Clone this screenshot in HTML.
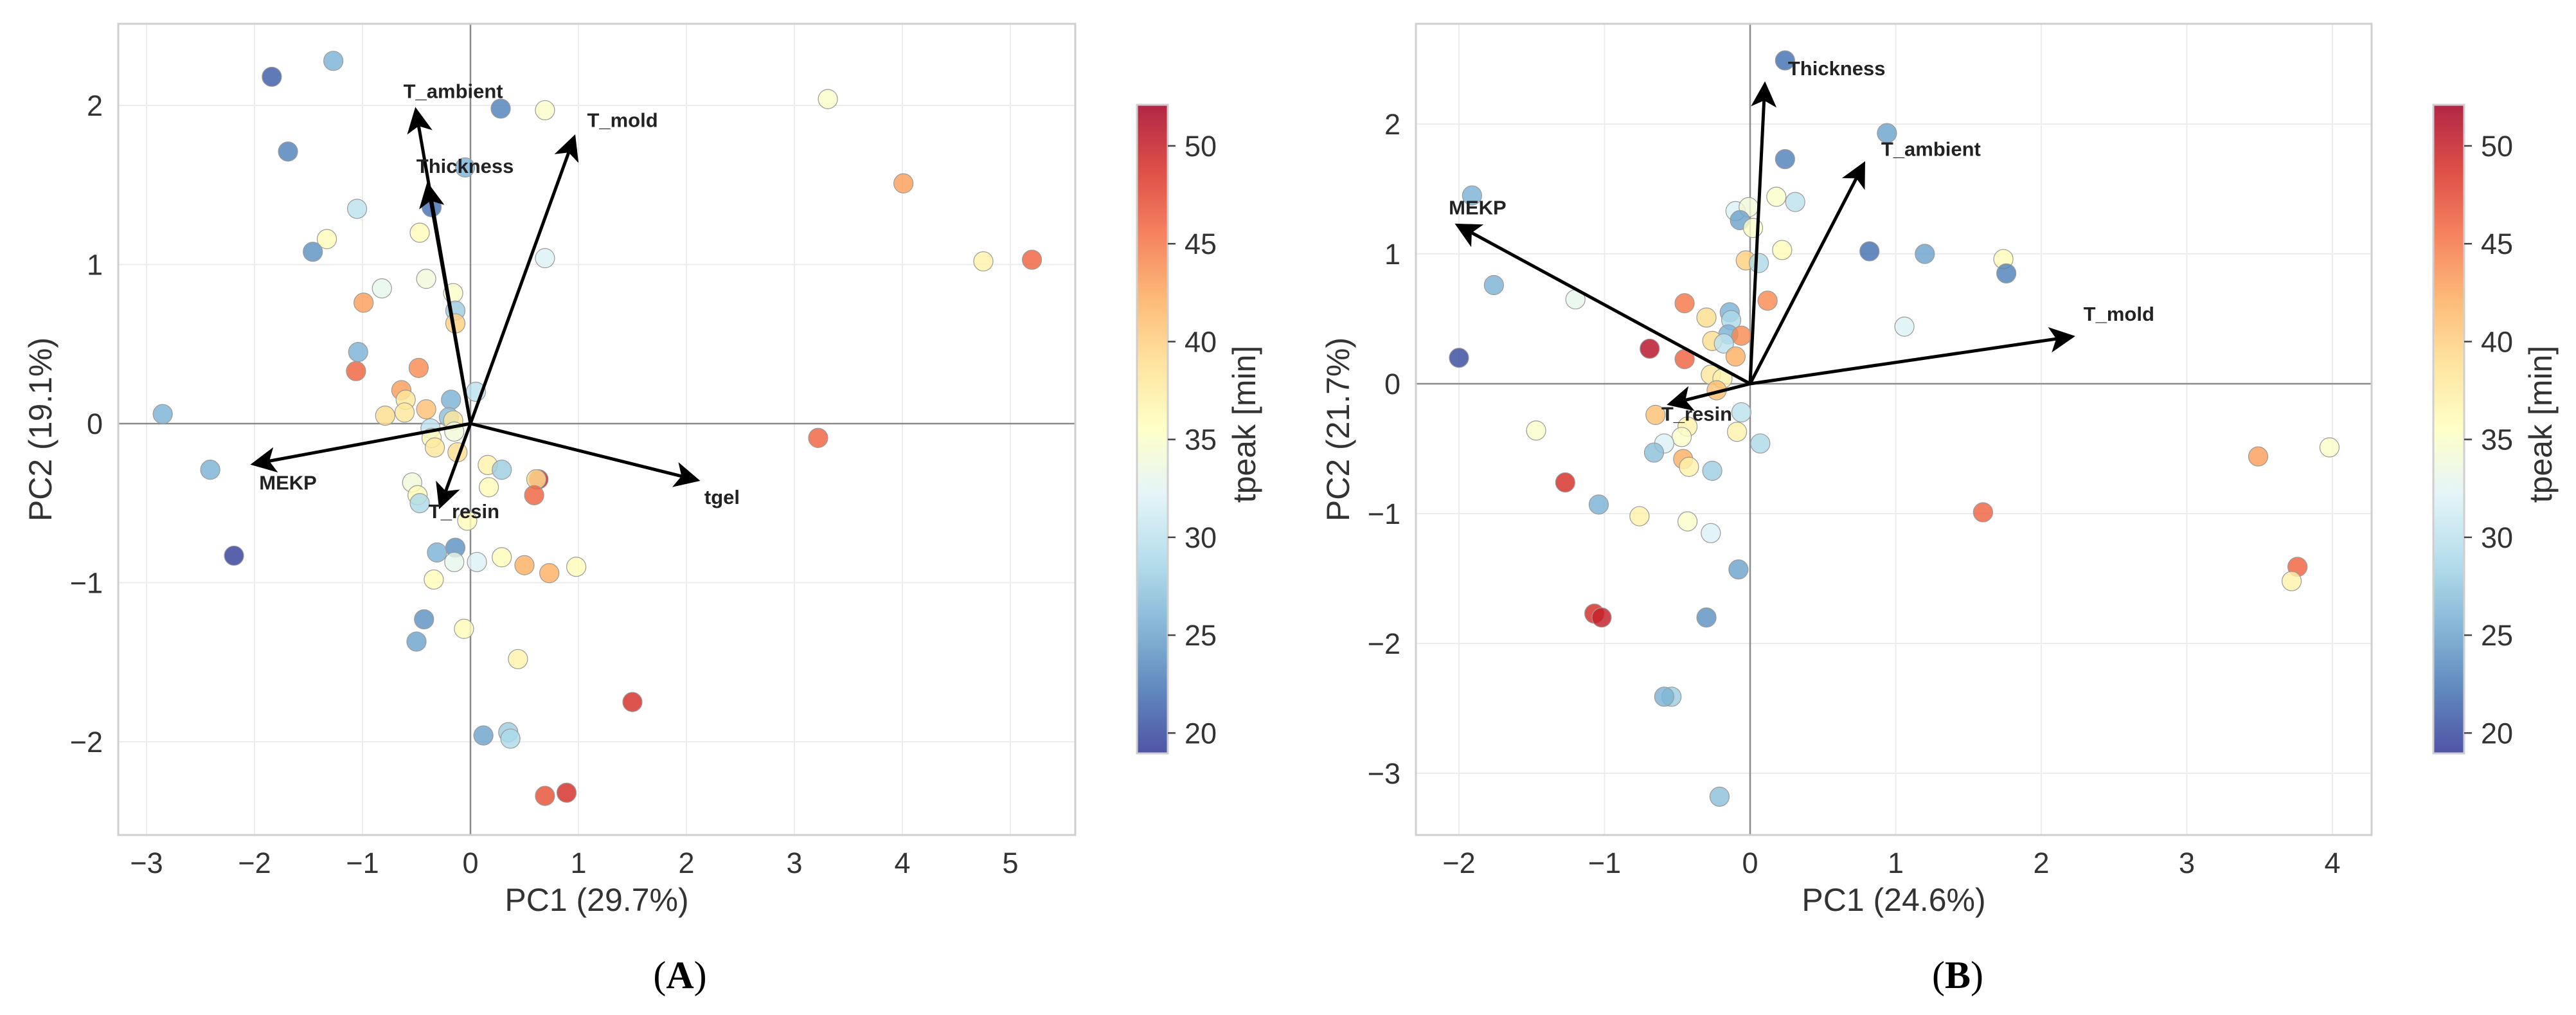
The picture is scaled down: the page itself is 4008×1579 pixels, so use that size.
<!DOCTYPE html>
<html><head><meta charset="utf-8"><title>PCA biplots</title>
<style>
html,body{margin:0;padding:0;background:#fff;}
svg{display:block;font-family:"Liberation Sans",sans-serif;}
</style></head>
<body>
<svg id="fig" width="4008" height="1579" viewBox="0 0 4008 1579" xmlns="http://www.w3.org/2000/svg">
<defs>
<marker id="ah" markerWidth="8" markerHeight="8" refX="6" refY="4" orient="auto" markerUnits="strokeWidth"><path d="M0,0 L8,4 L0,8 L2,4 Z" fill="#000"/></marker>
<linearGradient id="cbgrad" x1="0" y1="1" x2="0" y2="0">
<stop offset="0" stop-color="#313695"/><stop offset="0.1" stop-color="#4575b4"/><stop offset="0.2" stop-color="#74add1"/><stop offset="0.3" stop-color="#abd9e9"/><stop offset="0.4" stop-color="#e0f3f8"/><stop offset="0.5" stop-color="#ffffbf"/><stop offset="0.6" stop-color="#fee090"/><stop offset="0.7" stop-color="#fdae61"/><stop offset="0.8" stop-color="#f46d43"/><stop offset="0.9" stop-color="#d73027"/><stop offset="1" stop-color="#a50026"/>
</linearGradient>
</defs>
</svg>
<script>
// ---------- Panel A data ----------
const aPC1 = [-1.84,-1.27,-1.69,0.28,0.69,3.31,4.01,4.75,5.20,-0.05,-0.36,-1.05,-1.33,-0.47,-1.46,0.69,-0.41,-0.82,-0.16,-0.99,-0.14,-0.14,-1.04,-1.06,-0.48,-0.64,-0.60,-0.18,0.05,-0.79,-0.61,-0.41,-0.20,-0.16,-0.37,-0.15,-0.36,-0.33,-0.12,0.16,0.29,0.63,0.61,0.59,0.17,-0.54,-0.49,-0.47,-0.03,-0.14,-0.31,-0.15,0.06,0.29,0.50,0.73,0.98,-0.34,-2.85,-2.41,-2.19,3.22,-0.43,-0.50,-0.06,0.44,1.50,0.12,0.35,0.37,0.69,0.89];
const aPC2 = [2.18,2.28,1.71,1.98,1.97,2.04,1.51,1.02,1.03,1.61,1.36,1.35,1.16,1.20,1.08,1.04,0.91,0.85,0.82,0.76,0.71,0.63,0.45,0.33,0.35,0.21,0.15,0.15,0.20,0.05,0.07,0.09,0.04,0.02,-0.03,-0.05,-0.09,-0.15,-0.18,-0.26,-0.29,-0.35,-0.35,-0.45,-0.40,-0.37,-0.45,-0.50,-0.61,-0.78,-0.81,-0.87,-0.87,-0.84,-0.89,-0.94,-0.90,-0.98,0.06,-0.29,-0.83,-0.09,-1.23,-1.37,-1.29,-1.48,-1.75,-1.96,-1.94,-1.98,-2.34,-2.32];
const aTpeak = [21,26,23,23,35,35,43,37,46,26,22,30,36,36,24,32,34,33,35,43,28,40,26,46,44,43,38,26,30,39,38,41,27,38,30,34,36,38,39,37,28,50,39,46,36,34,36,29,36,24,26,33,32,36,42,42,36,36,26,26,19.5,46,24,25,36,37,49,25,28,29,47,49];
const aLoadNames = ["T_ambient","Thickness","T_mold","MEKP","tgel","T_resin"];
const aLoadX = [-0.50,-0.39,0.95,-1.98,2.07,-0.27];
const aLoadY = [1.95,1.48,1.78,-0.25,-0.35,-0.50];
const aLabelX = [-0.16,-0.05,1.08,-1.69,2.33,-0.06];
const aLabelY = [2.09,1.62,1.91,-0.37,-0.46,-0.55];
const aXTicks = [-3,-2,-1,0,1,2,3,4,5];
const aYTicks = [-2,-1,0,1,2];

// ---------- Panel B data ----------
const bPC1 = [0.24,0.94,0.24,0.18,0.31,-0.10,-0.01,-0.07,0.02,0.22,0.82,1.20,1.74,1.76,-0.03,0.06,-1.91,-1.76,-1.20,1.06,0.12,-0.45,-0.30,-0.14,-0.13,-0.15,-0.06,-0.26,-0.18,-0.69,-0.45,-0.10,-2.00,-0.27,-0.19,-0.23,-0.06,-0.65,-0.43,-0.47,-0.59,-0.66,-0.46,-0.42,-0.26,-0.09,0.07,-1.47,-1.27,-1.04,-0.76,-0.43,-0.27,-0.08,1.60,3.49,3.98,3.76,3.72,-1.07,-1.02,-0.30,-0.54,-0.59,-0.21];
const bPC2 = [2.49,1.93,1.73,1.44,1.40,1.33,1.36,1.26,1.20,1.03,1.02,1.00,0.96,0.85,0.95,0.93,1.45,0.76,0.65,0.44,0.64,0.62,0.51,0.55,0.49,0.38,0.37,0.33,0.31,0.27,0.19,0.21,0.20,0.07,0.04,-0.05,-0.22,-0.24,-0.33,-0.41,-0.46,-0.53,-0.58,-0.64,-0.67,-0.37,-0.46,-0.36,-0.76,-0.93,-1.02,-1.06,-1.15,-1.43,-0.99,-0.56,-0.49,-1.41,-1.52,-1.77,-1.80,-1.80,-2.41,-2.41,-3.18];
const bTpeak = [22,25,23,35,30,32,34,25,35,36,22,25,36,23,40,29,26,26,33,32,44,45,39,26,29,26,44,39,30,51,46,42,20,38,37,41,30,41,37,35,32,27,42,37,28,37,29,35,49,26,37,35,32,25,46,43,35,46,37,49,50,24,28,26,27];
const bLoadNames = ["Thickness","T_ambient","MEKP","T_mold","T_resin"];
const bLoadX = [0.10,0.77,-1.99,2.19,-0.53];
const bLoadY = [2.28,1.67,1.21,0.36,-0.15];
const bLabelX = [0.26,0.90,-2.07,2.29,-0.61];
const bLabelY = [2.43,1.81,1.36,0.54,-0.23];
const bXTicks = [-2,-1,0,1,2,3,4];
const bYTicks = [-3,-2,-1,0,1,2];

const cbTicks = [20,25,30,35,40,45,50];
const cbMin = 18.96, cbMax = 52.1;

const NS = "http://www.w3.org/2000/svg";
const svg = document.getElementById('fig');
const stops = ["#313695","#4575b4","#74add1","#abd9e9","#e0f3f8","#ffffbf","#fee090","#fdae61","#f46d43","#d73027","#a50026"];
function hex(h){return [parseInt(h.slice(1,3),16),parseInt(h.slice(3,5),16),parseInt(h.slice(5,7),16)];}
function cmap(v){
  let t=(v-cbMin)/(cbMax-cbMin); t=Math.max(0,Math.min(1,t));
  const p=t*10, i=Math.min(9,Math.floor(p)), f=p-i;
  const a=hex(stops[i]), b=hex(stops[i+1]);
  return "rgb("+a.map((c,k)=>Math.round(c+(b[k]-c)*f)).join(",")+")";
}
function mk(tag, attrs, parent){
  const e=document.createElementNS(NS,tag);
  for(const k in attrs) e.setAttribute(k,attrs[k]);
  (parent||svg).appendChild(e); return e;
}

function panel(cfg){
  const g=mk('g',{});
  
  
  const sx=v=>cfg.x0+v*cfg.ux, sy=v=>cfg.y0-v*cfg.uy;
  const fr=mk('rect',{x:cfg.L,y:cfg.T,width:cfg.R-cfg.L,height:cfg.B-cfg.T,fill:'#fff',stroke:'none'},g);
  
  
  cfg.xt.forEach(t=>{ const l=mk('line',{x1:sx(t),x2:sx(t),y1:cfg.T,y2:cfg.B,stroke:'#ececec','stroke-width':2},g);
    
     });
  cfg.yt.forEach(t=>{ const l=mk('line',{x1:cfg.L,x2:cfg.R,y1:sy(t),y2:sy(t),stroke:'#ececec','stroke-width':2},g);
    
     });
  const zx=mk('line',{x1:sx(0),x2:sx(0),y1:cfg.T,y2:cfg.B,stroke:'#8a8a8a','stroke-width':2.5},g);
  
  
  const zy=mk('line',{x1:cfg.L,x2:cfg.R,y1:sy(0),y2:sy(0),stroke:'#8a8a8a','stroke-width':2.5},g);
  
  
  for(let i=0;i<cfg.px.length;i++){
    const c=mk('circle',{cx:sx(cfg.px[i]),cy:sy(cfg.py[i]),r:15,fill:cmap(cfg.pc[i]),'fill-opacity':0.82,stroke:'#9a9a9a','stroke-width':1.2},g);
    
    
  }
  for(let i=0;i<cfg.ln.length;i++){
    const a=mk('line',{x1:sx(0),y1:sy(0),x2:sx(cfg.lx[i]),y2:sy(cfg.ly[i]),stroke:'#000','stroke-width':5,'marker-end':'url(#ah)'},g);
    
    
    const tx=mk('text',{x:sx(cfg.tx[i]),y:sy(cfg.ty[i])+11,'font-size':31,'font-weight':'bold',fill:'#222','text-anchor':cfg.anchor[i]},g);
    tx.textContent=cfg.ln[i];
    
    
  }
  const fb=mk('rect',{x:cfg.L,y:cfg.T,width:cfg.R-cfg.L,height:cfg.B-cfg.T,fill:'none',stroke:'#cfcfcf','stroke-width':3},g);
  
  
  cfg.xt.forEach(t=>{ const e=mk('text',{x:sx(t),y:1358,'font-size':45,fill:'#333','text-anchor':'middle'},g);
    e.textContent=(t<0?'\u2212'+(-t):''+t);
    
     });
  cfg.yt.forEach(t=>{ const e=mk('text',{x:cfg.L-24,y:sy(t)+16,'font-size':45,fill:'#333','text-anchor':'end'},g);
    e.textContent=(t<0?'\u2212'+(-t):''+t);
    
     });
  const xl=mk('text',{x:(cfg.L+cfg.R)/2,y:1417,'font-size':50,fill:'#333','text-anchor':'middle'},g);
  xl.textContent=cfg.xlab;
  
  
  const yl=mk('text',{x:0,y:0,'font-size':50,fill:'#333','text-anchor':'middle',transform:'translate('+(cfg.L-104)+','+((cfg.T+cfg.B)/2)+') rotate(-90)'},g);
  yl.textContent=cfg.ylab;
  
  
  const cbT=163, cbB=1172;
  const cy=v=>cbB-(v-cbMin)/(cbMax-cbMin)*(cbB-cbT);
  const cb=mk('rect',{x:cfg.cbx,y:cbT,width:48,height:cbB-cbT,fill:'url(#cbgrad)','fill-opacity':0.85,stroke:'#cfcfcf','stroke-width':3},g);
  
  
  cbTicks.forEach(t=>{
    const tk=mk('line',{x1:cfg.cbx+48,x2:cfg.cbx+60,y1:cy(t),y2:cy(t),stroke:'#444','stroke-width':2.5},g);
    
    
    const e=mk('text',{x:cfg.cbx+74,y:cy(t)+16,'font-size':45,fill:'#333'},g);
    e.textContent=t;
    
    
  });
  const ct=mk('text',{x:0,y:0,'font-size':50,fill:'#333','text-anchor':'middle',transform:'translate('+(cfg.cbx+184)+',660) rotate(-90)'},g);
  ct.textContent='tpeak [min]';
  
  
  const pl=mk('text',{x:cfg.capx,y:1537,'font-size':60,'font-family':'"Liberation Serif",serif',fill:'#000','text-anchor':'middle'},g);
  pl.innerHTML='(<tspan font-weight="bold">'+cfg.cap+'</tspan>)';
  
  
}

panel({id:'panel-a',L:184,R:1673,T:37,B:1299,x0:732,ux:168,y0:659,uy:247.5,
  xt:aXTicks,yt:aYTicks,px:aPC1,py:aPC2,pc:aTpeak,ln:aLoadNames,lx:aLoadX,ly:aLoadY,tx:aLabelX,ty:aLabelY,
  anchor:['middle','middle','start','middle','middle','middle'],
  xlab:'PC1 (29.7%)',ylab:'PC2 (19.1%)',cbx:1769,capx:1058,cap:'A'});
panel({id:'panel-b',L:2203,R:3690,T:37,B:1299,x0:2723,ux:226.5,y0:597,uy:202,
  xt:bXTicks,yt:bYTicks,px:bPC1,py:bPC2,pc:bTpeak,ln:bLoadNames,lx:bLoadX,ly:bLoadY,tx:bLabelX,ty:bLabelY,
  anchor:['start','start','start','start','start'],
  xlab:'PC1 (24.6%)',ylab:'PC2 (21.7%)',cbx:3786,capx:3046,cap:'B'});
</script>
</body></html>
